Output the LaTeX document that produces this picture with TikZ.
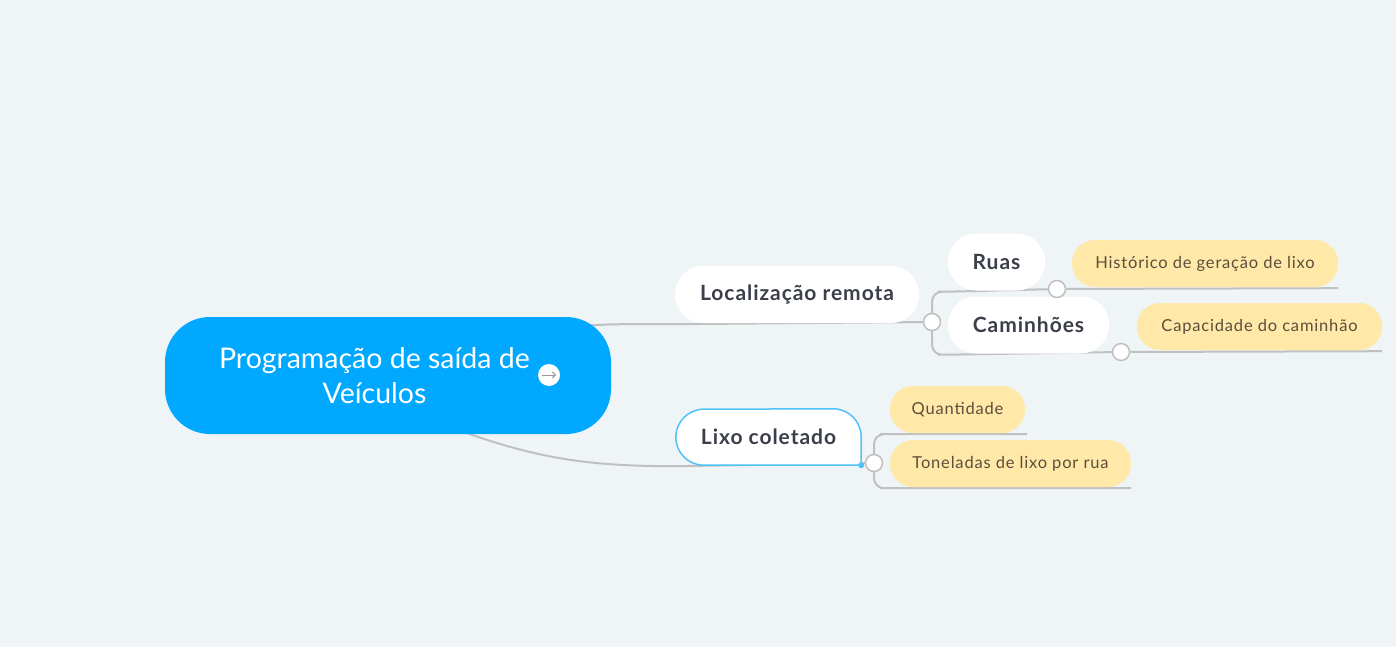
\documentclass[tikz,border=0pt]{standalone}
\usepackage{fontspec}
\setmainfont{Lato}
\newfontfamily\topicfont[LetterSpace=4.5]{Lato}
\newfontfamily\leaffont[LetterSpace=5]{Lato}
\usetikzlibrary{arrows.meta}
\definecolor{bgcol}{HTML}{EFF4F7}
\definecolor{mainblue}{HTML}{00A9FF}
\definecolor{lixoblue}{HTML}{4DC3FA}
\definecolor{linegray}{HTML}{C0C0C0}
\definecolor{arrowgray}{HTML}{9A9A9A}
\definecolor{topictext}{HTML}{3B3F4A}
\definecolor{leaftext}{HTML}{5B4E3C}
\definecolor{leafyellow}{HTML}{FFE8A8}
\pgfdeclarelayer{back}
\pgfdeclarelayer{links}
\pgfsetlayers{back,links,main}
\begin{document}
\begin{tikzpicture}[x=1pt, y=-1pt,
mainnode/.style={rounded corners=45pt, fill=mainblue, minimum width=446pt, minimum height=117pt, inner sep=0pt},
topicnode/.style={rounded corners=28pt, fill=white, minimum height=57pt, inner sep=0pt, font=\topicfont\fontsize{21}{25}\selectfont\bfseries, text=topictext},
leafnode/.style={rounded corners=23pt, fill=leafyellow, minimum height=47pt, inner sep=0pt, font=\leaffont\fontsize{16.5}{19}\selectfont, text=leaftext},
knob/.style={circle, draw=linegray, fill=white, line width=1.5pt, minimum size=17pt, inner sep=0pt},
edge/.style={draw=linegray, line width=2pt},
]
\begin{pgfonlayer}{back}
\fill[bgcol] (0,0) rectangle (1396,647);
\end{pgfonlayer}

%Nodes
\node[mainnode] (main) at (388,375.5) {};
\node[text=white, align=center, font=\fontsize{28.5}{35}\selectfont] (maintitle) at (374.5,376) {Programação de saída de\\Veículos};
\node[circle, fill=white, minimum size=22pt, inner sep=0pt] (go) at (549,375) {};
\node[topicnode, minimum width=244pt] (loc) at (797,294.5) {Localização remota};
\node[topicnode, minimum width=97pt] (ruas) at (996.5,262) {Ruas};
\node[topicnode, minimum width=161pt] (cam) at (1028.5,325) {Caminhões};
\node[minimum width=185pt, minimum height=56pt, inner sep=0pt, font=\topicfont\fontsize{21}{25}\selectfont\bfseries, text=topictext] (lixo) at (768.5,437) {Lixo coletado};
\node[leafnode, minimum width=266pt] (hist) at (1205,263.5) {Histórico de geração de lixo};
\node[leafnode, minimum width=245pt] (cap) at (1259.5,326.5) {Capacidade do caminhão};
\node[leafnode, minimum width=135pt] (qtd) at (957.5,409.5) {Quantidade};
\node[leafnode, minimum width=241pt] (ton) at (1010.5,463.5) {Toneladas de lixo por rua};
\node[knob] (kloc) at (932,322) {};
\node[knob] (kruas) at (1057,289) {};
\node[knob] (kcam) at (1121,352) {};
\node[knob] (klixo) at (874,463) {};

%Lines
\begin{pgfonlayer}{links}
\draw[edge] ([xshift=-40pt,yshift=-10pt]main.north east) to[out=5,in=180] ([yshift=-1pt]loc.south west) -- (kloc);
\draw[edge] ([xshift=68pt,yshift=5pt]main.south) to[out=-20,in=180] ([yshift=-1pt]lixo.south west) -- (klixo);
\draw[edge, rounded corners=10pt] (kloc.center) |- ([yshift=-1pt]ruas.south west) -- (kruas);
\draw[edge] (kruas) -- ([yshift=-1pt]hist.south east);
\draw[edge, rounded corners=10pt] (kloc.center) |- ([yshift=-1pt]cam.south west) -- (kcam);
\draw[edge] (kcam) -- ([yshift=-1pt]cap.south east);
\draw[edge, rounded corners=10pt] (klixo.center) |- ([yshift=-1pt]qtd.south west) -- ([xshift=2pt,yshift=-1pt]qtd.south east);
\draw[edge, rounded corners=10pt] (klixo.center) |- ([yshift=-1pt]ton.south west) -- ([yshift=-1pt]ton.south east);
\path[fill=white, draw=lixoblue, line width=1.5pt] (lixo.south east) -- ([xshift=28pt]lixo.south west) arc[start angle=270, end angle=90, radius=28pt] -- ([xshift=-28pt]lixo.north east) arc[start angle=90, end angle=0, radius=28pt] -- cycle;
\end{pgfonlayer}
\fill[lixoblue] (lixo.south east) circle[radius=3pt];
\draw[arrowgray, line width=1pt, -{Straight Barb[length=3pt]}] ([xshift=-7pt]go.center) -- ([xshift=7pt]go.center);

\end{tikzpicture}
\end{document}
